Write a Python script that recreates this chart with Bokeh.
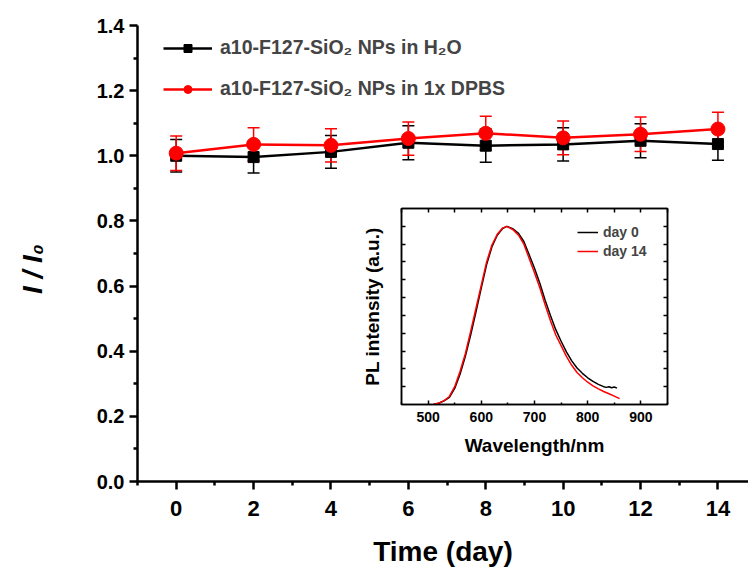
from bokeh.plotting import figure
from bokeh.models import (Range1d, Whisker, TeeHead, ColumnDataSource, Legend, LegendItem,
                          LinearAxis, FixedTicker, NumeralTickFormatter, CustomJSTickFormatter)
from bokeh.embed import file_html
from bokeh.resources import INLINE

# ---------------- data ----------------
days = [0, 2, 4, 6, 8, 10, 12, 14]
h2o = [1.000, 0.996, 1.012, 1.040, 1.031, 1.035, 1.046, 1.036]
h2o_err = [0.050, 0.049, 0.050, 0.052, 0.051, 0.051, 0.052, 0.050]
dpbs = [1.008, 1.035, 1.032, 1.053, 1.069, 1.055, 1.066, 1.082]
dpbs_err = [0.053, 0.051, 0.051, 0.051, 0.052, 0.052, 0.053, 0.052]

x_ticks = [0, 2, 4, 6, 8, 10, 12, 14]
x_minor = [-1, 1, 3, 5, 7, 9, 11, 13]
y_ticks = [0.0, 0.2, 0.4, 0.6, 0.8, 1.0, 1.2, 1.4]
y_minor = [0.1, 0.3, 0.5, 0.7, 0.9, 1.1, 1.3]

wl_day0 = [510, 520, 530, 540, 550, 560, 570, 580, 590, 600, 610, 620, 630, 640, 648,
           660, 670, 680, 690, 700, 710, 720, 730, 740, 750, 760, 770, 780, 790, 800,
           810, 820, 830, 835, 840, 845, 850, 855]
pl_day0 = [0.0, 0.007, 0.02, 0.04, 0.09, 0.17, 0.27, 0.39, 0.52, 0.655, 0.785, 0.885, 0.95,
           0.988, 1.0, 0.985, 0.96, 0.915, 0.84, 0.765, 0.68, 0.585, 0.5, 0.42, 0.355, 0.295,
           0.245, 0.205, 0.175, 0.15, 0.13, 0.113, 0.1, 0.096, 0.1, 0.094, 0.098, 0.092]
wl_day14 = [510, 520, 530, 540, 550, 560, 570, 580, 590, 600, 610, 620, 630, 640, 648,
            660, 670, 680, 690, 700, 710, 720, 730, 740, 750, 760, 770, 780, 790, 800,
            810, 820, 830, 840, 850, 860]
pl_day14 = [0.0, 0.008, 0.022, 0.045, 0.10, 0.185, 0.285, 0.41, 0.54, 0.67, 0.80, 0.895, 0.955,
            0.99, 1.0, 0.98, 0.95, 0.90, 0.82, 0.74, 0.655, 0.56, 0.47, 0.39, 0.33, 0.27,
            0.22, 0.18, 0.15, 0.125, 0.105, 0.088, 0.073, 0.06, 0.047, 0.033]
ins_x_ticks = [500, 600, 700, 800, 900]
ins_x_minor = [450, 550, 650, 750, 850, 950]
ins_top_ticks = [450, 500, 550, 600, 650, 700, 750, 800, 850, 900, 950]
ins_y_ticks = [0.1, 0.2, 0.3, 0.4, 0.5, 0.6, 0.7, 0.8, 0.9, 1.0]

FONT = "Liberation Sans"

# ---------------- main figure ----------------
p = figure(width=748, height=569, output_backend="svg", toolbar_location=None,
           x_range=Range1d(-1, 14.79), y_range=Range1d(0, 1.4),
           min_border_left=137, min_border_right=0, min_border_top=25, min_border_bottom=85,
           x_axis_label="Time (day)", y_axis_label="I / I\u2080\u00a0\u00a0\u00a0\u00a0")
p.outline_line_color = None
p.grid.visible = False

p.xaxis.ticker = FixedTicker(ticks=x_ticks, minor_ticks=x_minor)
p.yaxis.ticker = FixedTicker(ticks=y_ticks, minor_ticks=y_minor)
p.yaxis.formatter = NumeralTickFormatter(format="0.0")
for ax in (p.xaxis[0], p.yaxis[0]):
    ax.axis_line_width = 2.5
    ax.major_tick_line_width = 2.5
    ax.minor_tick_line_width = 2.5
    ax.major_tick_in = 0
    ax.major_tick_out = 8
    ax.minor_tick_in = 0
    ax.minor_tick_out = 4
    ax.major_label_text_font = FONT
    ax.major_label_text_font_style = "bold"
    ax.major_label_text_color = "black"
    ax.axis_label_text_font = FONT
    ax.axis_label_text_color = "black"
p.xaxis.major_label_text_font_size = "22px"
p.yaxis.major_label_text_font_size = "20px"
p.xaxis.major_label_standoff = 11
p.yaxis.major_label_standoff = 5
p.xaxis.axis_label_text_font_size = "28px"
p.xaxis.axis_label_text_font_style = "bold"
p.xaxis.axis_label_standoff = 17
p.yaxis.axis_label_text_font_size = "28px"
p.yaxis.axis_label_text_font_style = "bold italic"
p.yaxis.axis_label_standoff = 46

src1 = ColumnDataSource(dict(x=days, up=[v + e for v, e in zip(h2o, h2o_err)],
                             lo=[v - e for v, e in zip(h2o, h2o_err)]))
src2 = ColumnDataSource(dict(x=days, up=[v + e for v, e in zip(dpbs, dpbs_err)],
                             lo=[v - e for v, e in zip(dpbs, dpbs_err)]))

l1 = p.line(days, h2o, line_color="black", line_width=2.5)
w1 = Whisker(source=src1, base="x", upper="up", lower="lo", line_color="black", line_width=1.5,
             upper_head=TeeHead(size=12, line_color="black", line_width=1.5),
             lower_head=TeeHead(size=12, line_color="black", line_width=1.5))
p.add_layout(w1)
s1 = p.scatter(days, h2o, marker="square", size=11, fill_color="black", line_color="black")

l2 = p.line(days, dpbs, line_color="red", line_width=2.5)
w2 = Whisker(source=src2, base="x", upper="up", lower="lo", line_color="red", line_width=1.5,
             upper_head=TeeHead(size=12, line_color="red", line_width=1.5),
             lower_head=TeeHead(size=12, line_color="red", line_width=1.5))
p.add_layout(w2)
s2 = p.scatter(days, dpbs, marker="circle", size=14, fill_color="red", line_color="red")

leg = Legend(items=[LegendItem(label="a10-F127-SiO\u2082 NPs in H\u2082O", renderers=[l1, s1]),
                    LegendItem(label="a10-F127-SiO\u2082 NPs in 1x DPBS", renderers=[l2, s2])],
             location=(26, 381))
leg.border_line_color = None
leg.background_fill_alpha = 0
leg.glyph_width = 49
leg.glyph_height = 20
leg.label_height = 20
leg.spacing = 18
leg.label_standoff = 8
leg.padding = 0
leg.margin = 0
leg.label_text_font = FONT
leg.label_text_font_style = "bold"
leg.label_text_font_size = "19.5px"
p.add_layout(leg)

# ---------------- inset ----------------
ins = figure(width=317, height=264, output_backend="svg", toolbar_location=None,
             x_range=Range1d(450, 950), y_range=Range1d(0, 1.1),
             x_axis_location=None, y_axis_location=None,
             min_border_left=46, min_border_right=5, min_border_top=8, min_border_bottom=60)
ins.background_fill_color = None
ins.border_fill_color = None
ins.outline_line_color = "black"
ins.outline_line_width = 1.5
ins.grid.visible = False

blank = CustomJSTickFormatter(code="return ''")
bot_ax = LinearAxis(ticker=FixedTicker(ticks=ins_x_ticks, minor_ticks=ins_x_minor),
                    axis_label="Wavelength/nm")
left_ax = LinearAxis(ticker=FixedTicker(ticks=ins_y_ticks, minor_ticks=[]),
                     axis_label="PL intensity (a.u.)", formatter=blank)
top_ax = LinearAxis(ticker=FixedTicker(ticks=ins_top_ticks, minor_ticks=[]), formatter=blank)
right_ax = LinearAxis(ticker=FixedTicker(ticks=ins_y_ticks, minor_ticks=[]), formatter=blank)

for ax in (bot_ax, left_ax, top_ax, right_ax):
    ax.axis_line_width = 1.5
    ax.major_tick_line_width = 1.5
    ax.minor_tick_line_width = 1.5
    ax.major_tick_in = 4
    ax.major_tick_out = 0
    ax.minor_tick_in = 2
    ax.minor_tick_out = 0
    ax.major_label_text_font = FONT
    ax.major_label_text_font_style = "bold"
    ax.major_label_text_color = "black"
    ax.major_label_standoff = 0
    ax.axis_label_text_font = FONT
    ax.axis_label_text_font_style = "bold"
    ax.axis_label_text_font_size = "19px"
    ax.axis_label_text_color = "black"
bot_ax.major_label_text_font_size = "14px"
bot_ax.major_label_standoff = 7
bot_ax.axis_label_standoff = 10
left_ax.axis_label_standoff = 19

ins.add_layout(bot_ax, "below")
ins.add_layout(left_ax, "left")
ins.add_layout(top_ax, "above")
ins.add_layout(right_ax, "right")

c0 = ins.line(wl_day0, pl_day0, line_color="black", line_width=1.5)
c14 = ins.line(wl_day14, pl_day14, line_color="red", line_width=1.5)

ileg = Legend(items=[LegendItem(label="day 0", renderers=[c0]),
                     LegendItem(label="day 14", renderers=[c14])],
              location=(176, 145))
ileg.border_line_color = None
ileg.background_fill_alpha = 0
ileg.glyph_width = 21
ileg.glyph_height = 16
ileg.label_height = 16
ileg.spacing = 3
ileg.label_standoff = 5
ileg.padding = 0
ileg.margin = 0
ileg.label_text_font = FONT
ileg.label_text_font_style = "bold"
ileg.label_text_font_size = "14px"
ins.add_layout(ileg)

ins.styles = {"position": "absolute", "left": "355px", "top": "200px"}

open("out.html", "w").write(file_html([p, ins], INLINE))
